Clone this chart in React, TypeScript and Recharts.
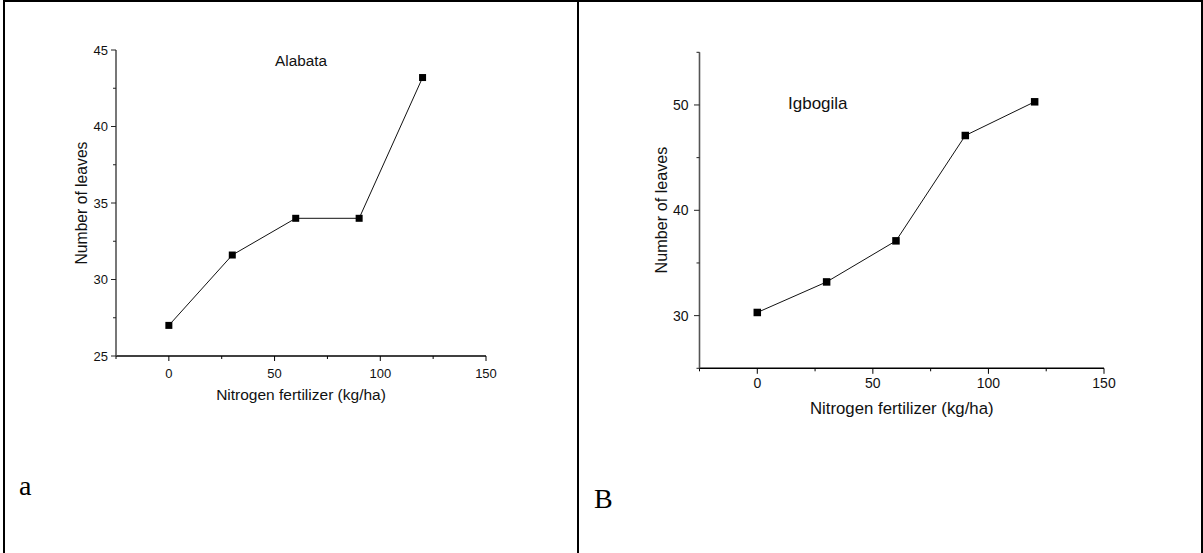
import React from "react";
import { LineChart, Line, XAxis, YAxis, Label } from "recharts";

// nitrogen rates (kg/ha) and number of leaves
const nitrogen = [0, 30, 60, 90, 120];
const leavesAlabata = [27, 31.6, 34, 34, 43.2];
const leavesIgbogila = [30.3, 33.2, 37.1, 47.1, 50.3];

const xTicks = [-25, 0, 25, 50, 75, 100, 125, 150];
const xTickLabels = [0, 50, 100, 150];
const yTicksA = [25, 27.5, 30, 32.5, 35, 37.5, 40, 42.5, 45];
const yTickLabelsA = [25, 30, 35, 40, 45];
const yTicksB = [25, 30, 35, 40, 45, 50, 55];
const yTickLabelsB = [30, 40, 50];

const SANS = "'Liberation Sans', Arial, sans-serif";
const SERIF = "'Liberation Serif', 'Times New Roman', serif";

interface PanelProps {
    left: number;
    width: number;
    height: number;
    margin: { top: number; right: number; bottom: number; left: number };
    values: number[];
    yDomain: [number, number];
    yTicks: number[];
    yLabels: number[];
    tickFont: number;
    labelFont: number;
    yLabelFont: number;
    xTickDy: number;
    yTickGap: number;
    majorLen: number;
    minorLen: number;
    xLabelY: number;
    yLabelX: number;
    yLabelY: number;
    marker: number;
}

function Panel(p: PanelProps) {
    const data = nitrogen.map((x, i) => ({ x, y: p.values[i] }));

    const xTick = (props: any) => {
        const { x, y, payload } = props;
        const major = xTickLabels.includes(payload.value);
        return (
            <g>
                <line x1={x} x2={x} y1={y} y2={y + (major ? p.majorLen : p.minorLen)} stroke="#000" strokeWidth={1} />
                {major && (
                    <text x={x} y={y + p.xTickDy} textAnchor="middle" fontSize={p.tickFont} fontFamily={SANS} fill="#111">
                        {payload.value}
                    </text>
                )}
            </g>
        );
    };

    const yTick = (props: any) => {
        const { x, y, payload } = props;
        const major = p.yLabels.includes(payload.value);
        return (
            <g>
                <line x1={x} x2={x - (major ? p.majorLen : p.minorLen)} y1={y} y2={y} stroke="#222" strokeWidth={1} />
                {major && (
                    <text x={x - p.yTickGap} y={y} dy="0.36em" textAnchor="end" fontSize={p.tickFont} fontFamily={SANS} fill="#111">
                        {payload.value}
                    </text>
                )}
            </g>
        );
    };

    const dot = (props: any) => {
        const { cx, cy, index } = props;
        const s = p.marker;
        return <rect key={index} x={cx - s / 2} y={cy - s / 2} width={s} height={s} fill="#000" />;
    };

    return (
        <div style={{ position: "absolute", left: p.left, top: 0 }}>
            <LineChart width={p.width} height={p.height} data={data} margin={p.margin}>
                <XAxis
                    type="number"
                    dataKey="x"
                    domain={[-25, 150]}
                    ticks={xTicks}
                    interval={0}
                    height={30}
                    tickSize={0}
                    tickMargin={0}
                    tickLine={false}
                    tick={xTick}
                    axisLine={{ stroke: "#000", strokeWidth: 1.4 }}
                >
                    <Label
                        content={(lp: any) => {
                            const vb = lp.viewBox || {};
                            return (
                                <text x={vb.x + vb.width / 2} y={p.xLabelY} textAnchor="middle" fontSize={p.labelFont} fontFamily={SANS} fill="#111">
                                    Nitrogen fertilizer (kg/ha)
                                </text>
                            );
                        }}
                    />
                </XAxis>
                <YAxis
                    type="number"
                    dataKey="y"
                    domain={p.yDomain}
                    ticks={p.yTicks}
                    interval={0}
                    width={40}
                    tickSize={0}
                    tickMargin={0}
                    tickLine={false}
                    tick={yTick}
                    axisLine={{ stroke: "#555", strokeWidth: 1.6 }}
                >
                    <Label
                        content={() => (
                            <text
                                x={p.yLabelX}
                                y={p.yLabelY}
                                transform={`rotate(-90 ${p.yLabelX} ${p.yLabelY})`}
                                textAnchor="middle"
                                fontSize={p.yLabelFont}
                                fontFamily={SANS}
                                fill="#111"
                            >
                                Number of leaves
                            </text>
                        )}
                    />
                </YAxis>
                <Line
                    type="linear"
                    dataKey="y"
                    stroke="#111"
                    strokeWidth={1}
                    dot={dot}
                    activeDot={false}
                    isAnimationActive={false}
                />
            </LineChart>
        </div>
    );
}

export default function App() {
    return (
        <div style={{ position: "absolute", left: 0, top: 0, width: 1203, height: 553, background: "#fff", overflow: "hidden" }}>
            <Panel
                left={0}
                width={578}
                height={450}
                margin={{ top: 50, right: 92, bottom: 64, left: 76 }}
                values={leavesAlabata}
                yDomain={[25, 45]}
                yTicks={yTicksA}
                yLabels={yTickLabelsA}
                tickFont={13}
                labelFont={15.5}
                yLabelFont={15.7}
                xTickDy={21.5}
                yTickGap={8}
                majorLen={5}
                minorLen={3}
                xLabelY={400}
                yLabelX={86.5}
                yLabelY={203}
                marker={7}
            />
            <Panel
                left={580}
                width={623}
                height={450}
                margin={{ top: 52.3, right: 99, bottom: 51.7, left: 79.5 }}
                values={leavesIgbogila}
                yDomain={[25, 55]}
                yTicks={yTicksB}
                yLabels={yTickLabelsB}
                tickFont={14}
                labelFont={16.8}
                yLabelFont={16.2}
                xTickDy={19.5}
                yTickGap={11}
                majorLen={5.5}
                minorLen={3}
                xLabelY={414}
                yLabelX={86.5}
                yLabelY={210}
                marker={7.5}
            />
            <svg width={1203} height={553} style={{ position: "absolute", left: 0, top: 0, pointerEvents: "none" }}>
                <line x1={3} x2={1203} y1={1} y2={1} stroke="#000" strokeWidth={2} />
                <line x1={4} x2={4} y1={0} y2={553} stroke="#000" strokeWidth={2} />
                <line x1={578} x2={578} y1={0} y2={553} stroke="#000" strokeWidth={2} />
                <line x1={1202} x2={1202} y1={0} y2={553} stroke="#000" strokeWidth={2} />
                <text x={301} y={66} textAnchor="middle" fontSize={15.3} fontFamily={SANS} fill="#111">Alabata</text>
                <text x={788} y={109} fontSize={17} fontFamily={SANS} fill="#111">Igbogila</text>
                <text x={19} y={495} fontSize={28} fontFamily={SERIF} fill="#000">a</text>
                <text x={594} y={508} fontSize={28} fontFamily={SERIF} fill="#000">B</text>
            </svg>
        </div>
    );
}
